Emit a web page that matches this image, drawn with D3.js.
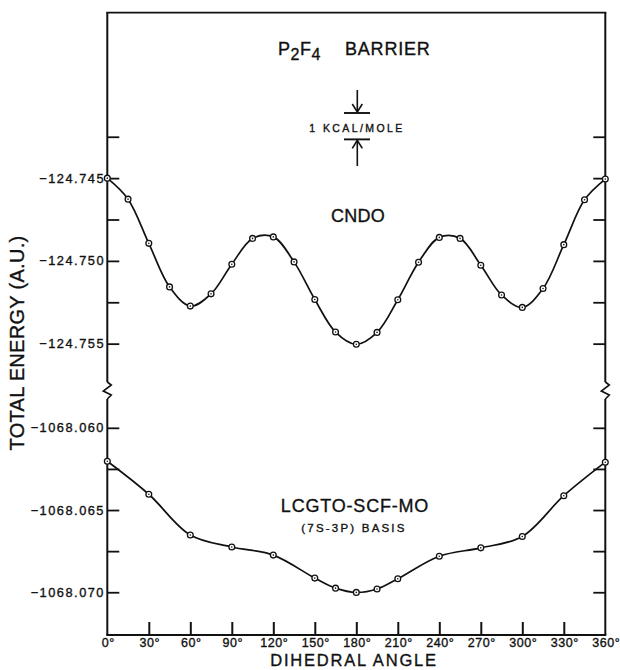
<!DOCTYPE html>
<html><head><meta charset="utf-8">
<script src="https://cdn.jsdelivr.net/npm/d3@7"></script>
<style>html,body{margin:0;padding:0;background:#fff;}svg{display:block;}text{stroke:#111;stroke-width:0.35px;}</style>
</head><body>
<svg id="chart" width="620" height="670"></svg>
<script>
// ---- data ----
const cndoAngles = [0,15,30,45,60,75,90,105,120,135,150,165,180,195,210,225,240,255,270,285,300,315,330,345,360];
const cndoEnergy = [-124.74500,-124.74627,-124.74894,-124.75157,-124.75273,-124.75199,-124.75020,-124.74864,-124.74855,-124.75006,
  -124.75233,-124.75430,-124.75504,-124.75432,-124.75235,-124.75008,-124.74858,-124.74864,-124.75026,-124.75206,
  -124.75281,-124.75167,-124.74902,-124.74631,-124.74506];
const lcgtoAngles = [0,30,60,90,120,150,165,180,195,210,240,270,300,330,360];
const lcgtoEnergy = [-1068.06203,-1068.06404,-1068.06652,-1068.06725,-1068.06774,-1068.06914,-1068.06975,-1068.07001,
  -1068.06980,-1068.06918,-1068.06781,-1068.06730,-1068.06661,-1068.06413,-1068.06209];
const xTicks = [0,30,60,90,120,150,180,210,240,270,300,330,360];
const upperTicks = [-124.7425,-124.745,-124.7475,-124.750,-124.7525,-124.755];
const upperLabels = [-124.745,-124.750,-124.755];
const lowerTicks = [-1068.060,-1068.0625,-1068.065,-1068.0675,-1068.070];
const lowerLabels = [-1068.060,-1068.065,-1068.070];
const kcalPerHartree = 627.5;

// ---- layout ----
const svg = d3.select("#chart");
const L = 107.3, R = 605.3, T = 12.6, B = 635, BRK = 390;
const x = d3.scaleLinear().domain([0,360]).range([L,R]);
const yUp = d3.scaleLinear().domain([-124.7578,-124.735]).range([BRK,T]);
const yLo = d3.scaleLinear().domain([-1068.0726,-1068.0577]).range([B,BRK]);
const font = "'Liberation Sans', Arial, sans-serif";

// frame
const g = svg.append("g").attr("stroke","#111").attr("fill","none").attr("stroke-linecap","butt");
g.append("line").attr("x1",L-1).attr("x2",R+1).attr("y1",T).attr("y2",T).attr("stroke-width",1.6);
g.append("line").attr("x1",L-1).attr("x2",R+1).attr("y1",B).attr("y2",B).attr("stroke-width",2.2);
function sideWithBreak(xx){
  g.append("line").attr("x1",xx).attr("x2",xx).attr("y1",T).attr("y2",BRK-8).attr("stroke-width",2);
  g.append("path").attr("d",`M${xx},${BRK-8} L${xx+4},${BRK-5} L${xx-4},${BRK+1} L${xx+4},${BRK+5} L${xx},${BRK+9}`).attr("stroke-width",1.6);
  g.append("line").attr("x1",xx).attr("x2",xx).attr("y1",BRK+9).attr("y2",B).attr("stroke-width",2);
}
sideWithBreak(L); sideWithBreak(R);

// x axis ticks (inward)
const xAxis = d3.axisBottom(x).tickValues(xTicks.slice(1,-1)).tickSize(-13).tickFormat("");
const xg = svg.append("g").attr("transform",`translate(0,${B})`).call(xAxis);
xg.select(".domain").remove();
xg.selectAll(".tick line").attr("stroke","#111").attr("stroke-width",2);
svg.append("g").selectAll("text").data(xTicks).join("text")
  .attr("x",d=>x(d)+1).attr("y",647).attr("text-anchor","middle")
  .attr("font-family",font).attr("font-size",12.5).attr("letter-spacing",0.6).attr("fill","#111")
  .text(d=>d+"°");

// y ticks both sides
function yTicks(scale, ticks, labels){
  [L,R].forEach((xx,i)=>{
    const ax = (i===0? d3.axisLeft(scale).tickSize(-12) : d3.axisRight(scale).tickSize(-12)).tickValues(ticks).tickFormat("");
    const a = svg.append("g").attr("transform",`translate(${xx},0)`).call(ax);
    a.select(".domain").remove();
    a.selectAll(".tick line").attr("stroke","#111").attr("stroke-width",1.8);
  });
  svg.append("g").selectAll("text").data(labels).join("text")
    .attr("x",105).attr("y",d=>scale(d)+4.6).attr("text-anchor","end")
    .attr("font-family",font).attr("font-size",12.8).attr("letter-spacing",1.5).attr("fill","#111")
    .text(d=>"−"+Math.abs(d).toFixed(3));
}
yTicks(yUp, upperTicks, upperLabels);
yTicks(yLo, lowerTicks, lowerLabels);

// curves
function series(angles, energies, scale){
  const pts = angles.map((a,i)=>[x(a), scale(energies[i])]);
  svg.append("path").attr("d", d3.line().curve(d3.curveCatmullRom.alpha(0.5))(pts))
    .attr("fill","none").attr("stroke","#111").attr("stroke-width",1.7);
  const m = svg.append("g");
  m.selectAll("circle.o").data(pts).join("circle").attr("class","o")
    .attr("cx",d=>d[0]).attr("cy",d=>d[1]).attr("r",2.9)
    .attr("fill","#fff").attr("stroke","#111").attr("stroke-width",1.3);
  m.selectAll("circle.c").data(pts).join("circle").attr("class","c")
    .attr("cx",d=>d[0]).attr("cy",d=>d[1]).attr("r",0.8).attr("fill","#111");
}
series(cndoAngles, cndoEnergy, yUp);
series(lcgtoAngles, lcgtoEnergy, yLo);

// texts
const txt = (s,xx,yy,size,anchor,ls)=>svg.append("text").attr("x",xx).attr("y",yy)
  .attr("font-family",font).attr("font-size",size).attr("text-anchor",anchor||"middle")
  .attr("letter-spacing",ls||0).attr("fill","#111").text(s);
const t1 = svg.append("text").attr("x",278).attr("y",54.5).attr("font-family",font).attr("font-size",18).attr("fill","#111");
t1.append("tspan").text("P");
t1.append("tspan").attr("dy",5).attr("font-size",16).attr("dx",0.5).text("2");
t1.append("tspan").attr("dy",-5).attr("dx",0.5).text("F");
t1.append("tspan").attr("dy",5).attr("font-size",16).attr("dx",0.5).text("4");
txt("BARRIER",345,54.5,18,"start",0.8);
txt("CNDO",358,221.5,18,"middle",0.3);
txt("LCGTO-SCF-MO",355,511.5,18,"middle",0.8);
txt("(7S-3P)  BASIS",354,532,11.5,"middle",2.2);
txt("1 KCAL/MOLE",357,131.5,10.5,"middle",2.4);
txt("DIHEDRAL ANGLE",354,666,16.5,"middle",1.8);
svg.append("text").attr("transform","translate(23.5,343) rotate(-90)").attr("text-anchor","middle")
  .attr("font-family",font).attr("font-size",20).attr("letter-spacing",0.3).attr("fill","#111").text("TOTAL ENERGY (A.U.)");

// 1 kcal/mole marker
const xm = 357.3, yb1 = 113, yb2 = yb1 + (yUp(-124.745 - 1/kcalPerHartree) - yUp(-124.745));
const km = svg.append("g").attr("stroke","#111").attr("fill","none").attr("stroke-width",1.6);
km.append("line").attr("x1",344).attr("x2",370).attr("y1",yb1).attr("y2",yb1).attr("stroke-width",1.9);
km.append("line").attr("x1",344).attr("x2",370).attr("y1",yb2).attr("y2",yb2).attr("stroke-width",1.9);
km.append("line").attr("x1",xm).attr("x2",xm).attr("y1",90).attr("y2",yb1-1);
km.append("path").attr("d",`M${xm-5},${yb1-9} L${xm},${yb1-1} L${xm+5},${yb1-9}`);
km.append("line").attr("x1",xm).attr("x2",xm).attr("y1",yb2+1).attr("y2",166);
km.append("path").attr("d",`M${xm-5},${yb2+9} L${xm},${yb2+1} L${xm+5},${yb2+9}`);
</script>
</body></html>
